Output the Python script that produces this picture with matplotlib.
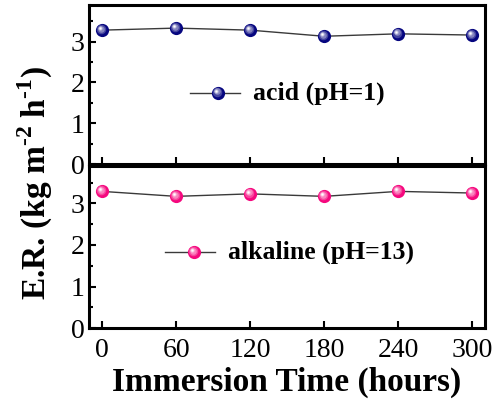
import matplotlib
matplotlib.use("Agg")
import matplotlib.pyplot as plt
import matplotlib.transforms as mtransforms
from matplotlib.ticker import MultipleLocator
import numpy as np

plt.rcParams['font.family'] = ['Liberation Serif', 'DejaVu Serif']
plt.rcParams['mathtext.fontset'] = 'custom'
plt.rcParams['mathtext.rm'] = 'Liberation Serif'
plt.rcParams['mathtext.bf'] = 'Liberation Serif:bold'
plt.rcParams['axes.unicode_minus'] = False

hours = [0, 60, 120, 180, 240, 300]
acid_er = [3.28, 3.33, 3.28, 3.13, 3.19, 3.16]
alkaline_er = [3.29, 3.17, 3.23, 3.17, 3.29, 3.25]
series_labels = ["acid (pH=1)", "alkaline (pH=13)"]
series_colors = ["#06067f", "#f5087e"]
x_ticks = [0, 60, 120, 180, 240, 300]
y_ticks = [0, 1, 2, 3]

fig = plt.figure(figsize=(4.95, 4.03), dpi=100)
ax_top = fig.add_axes([0.180, 0.593, 0.800, 0.395])
ax_bot = fig.add_axes([0.180, 0.186, 0.800, 0.402])


def blend(c, t):
    rgb = np.array(matplotlib.colors.to_rgb(c))
    return tuple(rgb + (1 - rgb) * t)


def spheres(ax, xs, ys, color, transform, size=9.5):
    ax.plot(xs, ys, 'o', ms=size, color=color, mec=color, mew=0,
            transform=transform, zorder=4, clip_on=False)
    layers = [(0.72, 0.25, 0.7), (0.5, 0.5, 1.1), (0.32, 0.75, 1.4), (0.16, 1.0, 1.6)]
    for frac, t, off in layers:
        tr = mtransforms.offset_copy(transform, fig=fig, x=-off, y=off, units='points')
        ax.plot(xs, ys, 'o', ms=size * frac, color=blend(color, t), mew=0,
                transform=tr, zorder=5, clip_on=False)


def style(ax, show_xlabels):
    ax.set_xlim(-10.5, 310.5)
    ax.set_ylim(0, 3.9)
    ax.set_xticks(x_ticks)
    ax.set_yticks(y_ticks)
    ax.yaxis.set_minor_locator(MultipleLocator(0.5))
    for s in ax.spines.values():
        s.set_linewidth(2.2)
    ax.tick_params(which='both', direction='in', top=False, right=False,
                   labelsize=20, width=1.5, pad=3)
    ax.tick_params(axis='x', pad=7)
    ax.tick_params(which='major', length=5)
    ax.tick_params(which='minor', length=3)
    ax.tick_params(axis='x', which='minor', bottom=False)
    if not show_xlabels:
        ax.tick_params(axis='x', labelbottom=False)


style(ax_top, False)
style(ax_bot, True)

for ax, vals, color, label, leg in [
        (ax_top, acid_er, series_colors[0], series_labels[0], (0.255, 0.381, 0.326, 0.414, 0.447)),
        (ax_bot, alkaline_er, series_colors[1], series_labels[1], (0.192, 0.318, 0.265, 0.351, 0.469))]:
    ax.plot(hours, vals, '-', color='#3a3a3a', lw=1.0, zorder=3)
    spheres(ax, hours, vals, color, ax.transData)
    x0, x1, xm, xt, yl = leg
    ax.plot([x0, x1], [yl, yl], '-', color='#3a3a3a', lw=1.0, transform=ax.transAxes, zorder=3)
    spheres(ax, [xm], [yl], color, ax.transAxes)
    ax.text(xt, yl, label, transform=ax.transAxes, fontsize=18.5, fontweight='bold',
            va='center', ha='left')

ax_bot.set_xlabel("Immersion Time (hours)", fontsize=24, fontweight='bold', labelpad=3)
fig.text(0.072, 0.545, r"E.R. (kg m$^{\mathbf{\text{-}2}}$ h$^{\mathbf{\text{-}1}}$)", rotation=90,
         fontsize=24, fontweight='bold', ha='center', va='center')

fig.savefig("out.png", dpi=100)
